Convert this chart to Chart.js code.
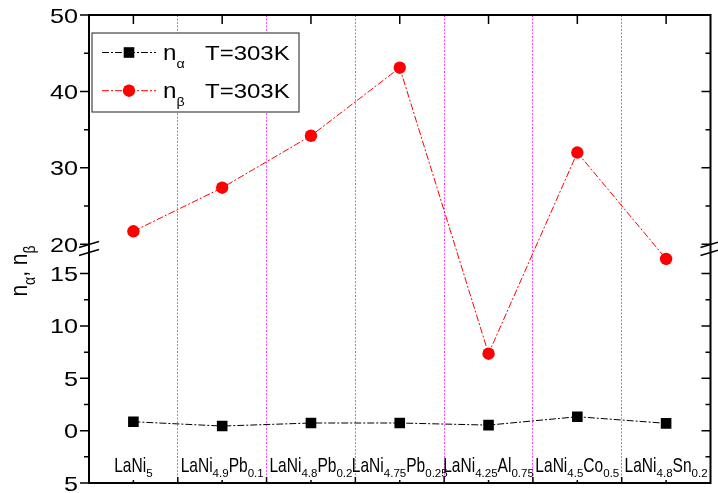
<!DOCTYPE html>
<html lang="en">
<head>
<meta charset="UTF-8" />
<title>n alpha, n beta at 303 K</title>
<style>
  html, body { margin: 0; padding: 0; background: #fff; }
  canvas { display: block; }
</style>
</head>
<body>
<canvas id="myChart" width="718" height="493"></canvas>
<script src="https://cdn.jsdelivr.net/npm/chart.js"></script>
<script>
// alloys, "_{...}" marks a subscript
const categories = ["LaNi_{5}", "LaNi_{4.9}Pb_{0.1}", "LaNi_{4.8}Pb_{0.2}", "LaNi_{4.75}Pb_{0.25}",
  "LaNi_{4.25}Al_{0.75}", "LaNi_{4.5}Co_{0.5}", "LaNi_{4.8}Sn_{0.2}"];
const nAlpha = [0.85, 0.44, 0.73, 0.73, 0.53, 1.33, 0.70];
const nBeta = [21.7, 27.4, 34.2, 43.1, 7.35, 32.0, 16.4];
const seriesLabels = ["n_{α}", "n_{β}"];
const seriesNote = "T=303K";
const yTitle = "n_{α}, n_{β}";
const yMajorTicks = [-5, 0, 5, 10, 15, 20, 30, 40, 50];
const yTickLabels = ["5", "0", "5", "10", "15", "20", "30", "40", "50"];
const yMinorTicks = [-2.5, 2.5, 7.5, 12.5, 25, 35, 45];

// broken y axis: below the break 1:1, above it squeezed
const BREAK_VALUE = 20;
const BREAK_POS = 17.8;
const UPPER_RATE = 0.73;
function toAxis(v) {
  return v < 18.5 ? v : BREAK_POS + (v - BREAK_VALUE) * UPPER_RATE;
}

const FONT = '"Liberation Sans", Arial, sans-serif';
const MAGENTA = "rgb(255,70,255)";

function parseRich(s) {
  const parts = [];
  const re = /_\{([^}]*)\}/g;
  let last = 0, m;
  while ((m = re.exec(s))) {
    if (m.index > last) parts.push({ t: s.slice(last, m.index), sub: false });
    parts.push({ t: m[1], sub: true });
    last = re.lastIndex;
  }
  if (last < s.length) parts.push({ t: s.slice(last), sub: false });
  return parts;
}

function richWidth(ctx, parts, st) {
  let w = 0;
  parts.forEach((p) => {
    const f = p.sub ? st.sub : st.main;
    ctx.font = f.size + "px " + FONT;
    w += ctx.measureText(p.t).width * f.hs;
  });
  return w;
}

// x = left start, y = baseline
function drawRich(ctx, parts, x, y, st) {
  let cx = x;
  parts.forEach((p) => {
    const f = p.sub ? st.sub : st.main;
    ctx.font = f.size + "px " + FONT;
    ctx.save();
    ctx.translate(cx, y + (p.sub ? f.dy : 0));
    ctx.scale(f.hs, f.vs || 1);
    ctx.textAlign = "left";
    ctx.textBaseline = "alphabetic";
    ctx.fillText(p.t, 0, 0);
    ctx.restore();
    cx += ctx.measureText(p.t).width * f.hs;
  });
}

const catStyle = { main: { size: 21, hs: 0.74 }, sub: { size: 10.5, hs: 1.1, dy: 5 } };
const legendStyle = { main: { size: 22, hs: 1.1 }, sub: { size: 13, hs: 1.1, dy: 8.5 } };
const titleStyle = { main: { size: 21, hs: 1, vs: 1.15 }, sub: { size: 14, hs: 1, vs: 1.15, dy: 8 } };

const decor = {
  id: "decor",
  afterDraw(chart) {
    const ctx = chart.ctx, a = chart.chartArea;
    const xs = chart.scales.x, ys = chart.scales.y;
    ctx.save();
    ctx.strokeStyle = "#000";
    ctx.fillStyle = "#000";

    // frame
    ctx.lineWidth = 2;
    ctx.strokeRect(a.left, a.top, a.right - a.left, a.bottom - a.top);

    // ticks
    ctx.lineWidth = 1.5;
    ctx.beginPath();
    yMajorTicks.forEach((v) => {
      const y = ys.getPixelForValue(toAxis(v));
      ctx.moveTo(a.left - 9, y); ctx.lineTo(a.left, y);
      ctx.moveTo(a.right - 9, y); ctx.lineTo(a.right, y);
    });
    yMinorTicks.forEach((v) => {
      const y = ys.getPixelForValue(toAxis(v));
      ctx.moveTo(a.left - 5, y); ctx.lineTo(a.left, y);
      ctx.moveTo(a.right - 5, y); ctx.lineTo(a.right, y);
    });
    categories.forEach((c, i) => {
      const x = xs.getPixelForValue(i);
      ctx.moveTo(x, a.top); ctx.lineTo(x, a.top + 9);
      ctx.moveTo(x, a.bottom); ctx.lineTo(x, a.bottom - 3);
      if (i > 0) {
        const xb = (xs.getPixelForValue(i - 1) + x) / 2;
        ctx.moveTo(xb, a.bottom); ctx.lineTo(xb, a.bottom - 6);
      }
    });
    ctx.stroke();

    // axis break marks
    const mid = ys.getPixelForValue((toAxis(BREAK_VALUE) + 17) / 2);
    ctx.beginPath();
    [a.left, a.right].forEach((cx) => {
      [-4, 4].forEach((o) => {
        ctx.moveTo(cx - 10, mid + o + 3);
        ctx.lineTo(cx + 10, mid + o - 3);
      });
    });
    ctx.stroke();

    // y tick labels
    ctx.font = "21px " + FONT;
    ctx.textAlign = "right";
    ctx.textBaseline = "alphabetic";
    yMajorTicks.forEach((v, i) => {
      const y = ys.getPixelForValue(toAxis(v));
      ctx.save();
      ctx.translate(a.left - 11, y + 7.5);
      ctx.scale(1.2, 1);
      ctx.fillText(yTickLabels[i], 0, 0);
      ctx.restore();
    });

    // y title, rotated
    const tParts = parseRich(yTitle);
    const tw = richWidth(ctx, tParts, titleStyle);
    ctx.save();
    ctx.translate(27, 271 + tw / 2);
    ctx.rotate(-Math.PI / 2);
    drawRich(ctx, tParts, 0, 0, titleStyle);
    ctx.restore();

    // category labels inside the plot
    categories.forEach((c, i) => {
      const parts = parseRich(c);
      const w = richWidth(ctx, parts, catStyle);
      drawRich(ctx, parts, xs.getPixelForValue(i) - w / 2, a.bottom - 11, catStyle);
    });

    // legend
    const lg = { x: 92, y: 33, w: 207, h: 79 };
    ctx.fillStyle = "#fff";
    ctx.fillRect(lg.x, lg.y, lg.w, lg.h);
    ctx.strokeStyle = "#444";
    ctx.lineWidth = 1.2;
    ctx.strokeRect(lg.x, lg.y, lg.w, lg.h);
    chart.data.datasets.forEach((ds, i) => {
      const ry = 52.5 + i * 38.2;
      ctx.strokeStyle = ds.borderColor;
      ctx.fillStyle = ds.borderColor;
      ctx.lineWidth = 1;
      ctx.setLineDash(ds.borderDash);
      ctx.beginPath();
      ctx.moveTo(102, ry); ctx.lineTo(156, ry);
      ctx.stroke();
      ctx.setLineDash([]);
      if (ds.pointStyle === "rect") {
        const s = ds.pointRadius * Math.SQRT1_2;
        ctx.fillRect(129 - s, ry - s, 2 * s, 2 * s);
      } else {
        ctx.beginPath();
        ctx.arc(129, ry, ds.pointRadius, 0, Math.PI * 2);
        ctx.fill();
      }
      ctx.fillStyle = "#000";
      drawRich(ctx, parseRich(seriesLabels[i]), 163, ry + 7, legendStyle);
      ctx.font = "20px " + FONT;
      ctx.textAlign = "left";
      ctx.save();
      ctx.translate(205, ry + 7.5);
      ctx.scale(1.2, 1);
      ctx.fillText(seriesNote, 0, 0);
      ctx.restore();
    });
    ctx.restore();
  },
};

const ctx = document.getElementById("myChart").getContext("2d");
new Chart(ctx, {
  type: "line",
  data: {
    labels: categories,
    datasets: [
      {
        label: seriesLabels[0],
        data: nAlpha.map(toAxis),
        borderColor: "#000000",
        backgroundColor: "#000000",
        borderWidth: 1,
        borderDash: [7, 2, 2, 2],
        pointStyle: "rect",
        pointRadius: 7.5,
        pointBorderWidth: 0,
        pointBackgroundColor: "#000000",
        fill: false,
        tension: 0,
      },
      {
        label: seriesLabels[1],
        data: nBeta.map(toAxis),
        borderColor: "#ff0000",
        backgroundColor: "#ff0000",
        borderWidth: 1,
        borderDash: [7, 2, 2, 2],
        pointStyle: "circle",
        pointRadius: 6.2,
        pointBorderWidth: 0,
        pointBackgroundColor: "#ff0000",
        fill: false,
        tension: 0,
      },
    ],
  },
  options: {
    responsive: false,
    animation: false,
    events: [],
    devicePixelRatio: 1,
    layout: { padding: { top: 15, right: 1, bottom: 10, left: 0 } },
    plugins: { legend: { display: false }, tooltip: { enabled: false } },
    scales: {
      x: {
        offset: true,
        grid: {
          offset: true,
          drawTicks: false,
          lineWidth: 1,
          color: (c) => (c.type !== "tick" || c.index === 0 ? "rgba(0,0,0,0)" : MAGENTA),
        },
        border: { display: false, dash: [2, 1.5] },
        ticks: { display: false },
        afterFit: (s) => { s.height = 0; },
      },
      y: {
        min: toAxis(-5),
        max: toAxis(50),
        ticks: { display: false },
        grid: { display: false },
        border: { display: false },
        afterFit: (s) => { s.width = 89; },
      },
    },
  },
  plugins: [decor],
});
</script>
</body>
</html>
